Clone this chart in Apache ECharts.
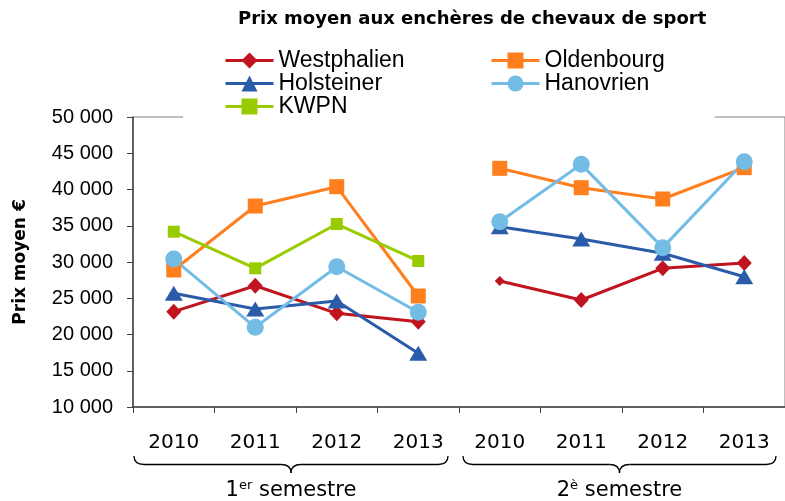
<!DOCTYPE html>
<html><head><meta charset="utf-8">
<script src="https://cdn.jsdelivr.net/npm/echarts@6/dist/echarts.min.js"></script>
<style>html,body{margin:0;padding:0;background:#fff}#c{width:785px;height:501px}</style>
</head><body><div id="c"></div>
<script>
var categories = ['2010','2011','2012','2013','2010','2011','2012','2013'];
var yTicks = [10000, 50000, 5000];
var westphalien1 = [23150, 26730, 22920, 21770];
var westphalien2 = [27380, 24760, 29130, 29860];
var oldenbourg1 = [28900, 37720, 40390, 25310];
var oldenbourg2 = [42920, 40250, 38690, 43010];
var holsteiner1 = [25680, 23520, 24620, 17400];
var holsteiner2 = [34870, 33170, 31200, 27970];
var hanovrien1 = [30410, 20990, 29350, 23060];
var hanovrien2 = [35560, 43470, 31980, 43840];
var kwpn1 = [34180, 29130, 35240, 30140];
var kwpn2 = [];

var styles = {
  'Westphalien': {color:'#C0141E', symbol:'diamond', size:[15,16]},
  'Oldenbourg': {color:'#FF7F1E', symbol:'rect', size:15},
  'Holsteiner': {color:'#2A5CAA', symbol:'triangle', size:[18,15]},
  'Hanovrien': {color:'#72BCE6', symbol:'circle', size:17},
  'KWPN': {color:'#99CC00', symbol:'rect', size:12}
};
var groups = [
  ['Westphalien', westphalien1, westphalien2],
  ['Oldenbourg', oldenbourg1, oldenbourg2],
  ['Holsteiner', holsteiner1, holsteiner2],
  ['Hanovrien', hanovrien1, hanovrien2],
  ['KWPN', kwpn1, kwpn2]
];
var series = [];
groups.forEach(function(g){
  var st = styles[g[0]];
  [g[1], g[2]].forEach(function(arr, half){
    if (!arr.length) return;
    var data = categories.map(function(){return '-';});
    arr.forEach(function(v,i){
      var item = {value: v};
      if (g[0]==='Westphalien' && half===1 && i===0) item.symbolSize = 10;
      data[half*4+i] = item;
    });
    series.push({
      name: g[0], type:'line', data: data, symbol: st.symbol, symbolSize: st.size,
      showAllSymbol: true, connectNulls:false,
      itemStyle:{color: st.color, opacity:1}, lineStyle:{color: st.color, width:3},
      emphasis:{disabled:true}, animation:false
    });
  });
});

var chart = echarts.init(document.getElementById('c'), null, {renderer:'canvas'});
var legendText = {fontFamily:'Liberation Sans, Arial, sans-serif', fontSize:23, color:'#000', lineHeight:23};
chart.setOption({
  animation:false,
  title:{text:'Prix moyen aux enchères de chevaux de sport', left:233, top:5,
    textStyle:{fontFamily:'DejaVu Sans', fontWeight:'bold', fontSize:18, color:'#000'}},
  legend:[
    {data:['Westphalien','Holsteiner','KWPN'], orient:'vertical', left:183, top:43,
     padding:[6,130,6,41], itemGap:0, itemWidth:48, itemHeight:20, textStyle:legendText,
     lineStyle:{width:3}, backgroundColor:'#fff', selectedMode:false},
    {data:['Oldenbourg','Hanovrien'], orient:'vertical', left:490, top:43,
     padding:[6,50,30,0], itemGap:0, itemWidth:48, itemHeight:20, textStyle:legendText,
     lineStyle:{width:3}, backgroundColor:'#fff', selectedMode:false}
  ],
  grid:{left:133, right:-4, top:117, bottom:94, show:true, borderColor:'#808080', borderWidth:1, backgroundColor:'transparent'},
  xAxis:{type:'category', data:categories, boundaryGap:true,
    axisLine:{lineStyle:{color:'#404040', width:1.5}},
    axisTick:{show:true, interval:0, length:6, lineStyle:{color:'#404040'}},
    axisLabel:{interval:0, margin:26, fontFamily:'DejaVu Sans', fontSize:20, color:'#000'},
    splitLine:{show:false}},
  yAxis:{type:'value', min:yTicks[0], max:yTicks[1], interval:yTicks[2],
    name:'Prix moyen €', nameLocation:'middle', nameRotate:90, nameGap:104,
    nameTextStyle:{fontFamily:'DejaVu Sans', fontWeight:'bold', fontSize:17, color:'#000'},
    axisLine:{show:true, lineStyle:{color:'#404040', width:1.5}},
    axisTick:{show:true, length:6, lineStyle:{color:'#404040'}},
    axisLabel:{margin:20, fontFamily:'Liberation Sans, Arial, sans-serif', fontSize:20, color:'#000',
      formatter:function(v){return String(v).replace(/\B(?=(\d{3})+(?!\d))/g,' ');}},
    splitLine:{show:false}},
  series: series
});

// braces and semester labels, positioned from the category axis
var x0 = chart.convertToPixel({xAxisIndex:0}, 0);
var x1 = chart.convertToPixel({xAxisIndex:0}, 1);
var halfW = (x1 - x0)/2;
var stroke = {fill:null, stroke:'#000', lineWidth:1.3};
function brace(a, b, yTop, depth){
  var m = (a+b)/2, r = 10, y1 = yTop + depth/2, y2 = yTop + depth;
  return [
    {type:'bezierCurve', shape:{x1:a, y1:yTop, cpx1:a, cpy1:y1, x2:a+r, y2:y1}, style:stroke},
    {type:'line', shape:{x1:a+r, y1:y1, x2:m-r, y2:y1}, style:stroke},
    {type:'bezierCurve', shape:{x1:m-r, y1:y1, cpx1:m, cpy1:y1, x2:m, y2:y2}, style:stroke},
    {type:'bezierCurve', shape:{x1:m, y1:y2, cpx1:m, cpy1:y1, x2:m+r, y2:y1}, style:stroke},
    {type:'line', shape:{x1:m+r, y1:y1, x2:b-r, y2:y1}, style:stroke},
    {type:'bezierCurve', shape:{x1:b-r, y1:y1, cpx1:b, cpy1:y1, x2:b, y2:yTop}, style:stroke}
  ];
}
var graphics = [];
var supParts = [['1','er',' semestre'],['2','è',' semestre']];
for (var s=0; s<2; s++){
  var left = chart.convertToPixel({xAxisIndex:0}, s*4) - halfW;
  var right = chart.convertToPixel({xAxisIndex:0}, s*4+3) + halfW;
  var a = left + 1, b = right - 11;
  if (s===1){ a = left + 4; b = right - 9; }
  graphics = graphics.concat(brace(a, b, 456, 17));
  var p = supParts[s];
  graphics.push({type:'text', x:(a+b)/2, y:491,
    style:{text:'{n|'+p[0]+'}{s|'+p[1]+'}{n|'+p[2]+'}', align:'center', verticalAlign:'middle',
      rich:{n:{fontFamily:'DejaVu Sans', fontSize:21, color:'#000', lineHeight:24},
            s:{fontFamily:'DejaVu Sans', fontSize:13, color:'#000', lineHeight:24, verticalAlign:'top', padding:[0,0,10,0]}}}});
}
chart.setOption({graphic: graphics});
</script></body></html>
